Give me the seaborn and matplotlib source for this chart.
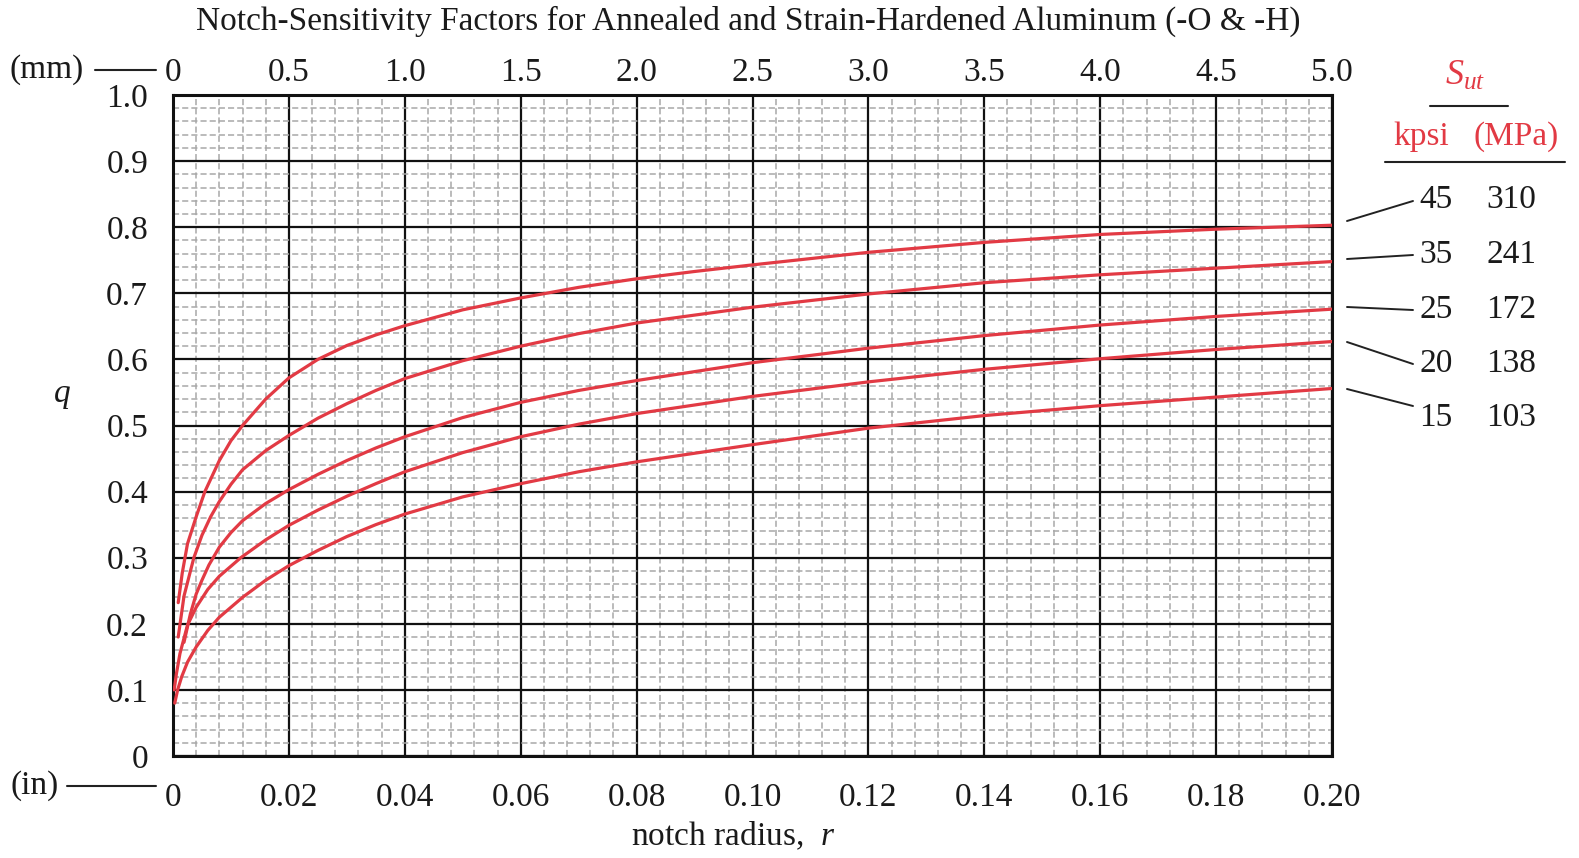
import numpy as np
import pandas as pd
import matplotlib
matplotlib.use("Agg")
import matplotlib.pyplot as plt
from matplotlib.lines import Line2D
import seaborn as sns

# Notch radius r (in) vs notch sensitivity q
r_45 = [0.0009, 0.0016, 0.0025, 0.004, 0.0055, 0.008, 0.01, 0.012, 0.016, 0.02, 0.025, 0.03, 0.035, 0.04,
        0.05, 0.06, 0.07, 0.08, 0.09, 0.10, 0.12, 0.14, 0.16, 0.18, 0.20]
q_45 = [0.232, 0.277, 0.321, 0.362, 0.40, 0.447, 0.477, 0.50, 0.54, 0.572, 0.600, 0.621, 0.637, 0.651,
        0.675, 0.693, 0.709, 0.722, 0.733, 0.743, 0.762, 0.777, 0.789, 0.797, 0.803]

r_35 = [0.0009, 0.0019, 0.0036, 0.005, 0.0065, 0.008, 0.01, 0.012, 0.016, 0.02, 0.025, 0.03, 0.035, 0.04,
        0.05, 0.06, 0.07, 0.08, 0.10, 0.12, 0.14, 0.16, 0.18, 0.20]
q_35 = [0.18, 0.242, 0.30, 0.334, 0.362, 0.385, 0.411, 0.433, 0.462, 0.485, 0.511, 0.533, 0.553, 0.571,
        0.598, 0.620, 0.639, 0.655, 0.679, 0.699, 0.716, 0.728, 0.738, 0.748]

r_25 = [0.0019, 0.003, 0.004, 0.005, 0.0062, 0.008, 0.01, 0.012, 0.016, 0.02, 0.025, 0.03, 0.035, 0.04,
        0.05, 0.06, 0.07, 0.08, 0.10, 0.12, 0.14, 0.16, 0.18, 0.20]
q_25 = [0.172, 0.215, 0.245, 0.266, 0.289, 0.316, 0.338, 0.356, 0.382, 0.403, 0.426, 0.447, 0.466, 0.483,
        0.512, 0.535, 0.553, 0.568, 0.595, 0.617, 0.636, 0.652, 0.665, 0.676]

r_20 = [0.0002, 0.0006, 0.0012, 0.0025, 0.004, 0.006, 0.008, 0.0117, 0.016, 0.02, 0.025, 0.03, 0.035,
        0.04, 0.05, 0.06, 0.07, 0.08, 0.10, 0.12, 0.14, 0.16, 0.18, 0.20]
q_20 = [0.10, 0.125, 0.155, 0.198, 0.225, 0.252, 0.272, 0.30, 0.327, 0.349, 0.372, 0.393, 0.412,
        0.430, 0.459, 0.483, 0.502, 0.518, 0.544, 0.566, 0.585, 0.601, 0.615, 0.627]

r_15 = [0.0003, 0.0008, 0.0015, 0.0025, 0.004, 0.006, 0.008, 0.012, 0.016, 0.02, 0.025, 0.03, 0.035,
        0.04, 0.05, 0.06, 0.07, 0.08, 0.10, 0.12, 0.14, 0.16, 0.18, 0.20]
q_15 = [0.08, 0.10, 0.12, 0.142, 0.165, 0.19, 0.21, 0.24, 0.266, 0.288, 0.311, 0.332, 0.35,
        0.366, 0.392, 0.412, 0.43, 0.445, 0.471, 0.496, 0.515, 0.53, 0.543, 0.556]

sut_kpsi = [45, 35, 25, 20, 15]
sut_mpa = [310, 241, 172, 138, 103]

x_ticks_in = [0, 0.02, 0.04, 0.06, 0.08, 0.10, 0.12, 0.14, 0.16, 0.18, 0.20]
x_labels_in = ["0", "0.02", "0.04", "0.06", "0.08", "0.10", "0.12", "0.14", "0.16", "0.18", "0.20"]
x_ticks_mm = [0, 0.5, 1.0, 1.5, 2.0, 2.5, 3.0, 3.5, 4.0, 4.5, 5.0]
x_labels_mm = ["0", "0.5", "1.0", "1.5", "2.0", "2.5", "3.0", "3.5", "4.0", "4.5", "5.0"]
y_ticks = [0, 0.1, 0.2, 0.3, 0.4, 0.5, 0.6, 0.7, 0.8, 0.9, 1.0]
y_labels = ["0", "0.1", "0.2", "0.3", "0.4", "0.5", "0.6", "0.7", "0.8", "0.9", "1.0"]

curves = {45: (r_45, q_45), 35: (r_35, q_35), 25: (r_25, q_25), 20: (r_20, q_20), 15: (r_15, q_15)}
df = pd.concat([pd.DataFrame({"r": r, "q": q, "Sut": k}) for k, (r, q) in curves.items()], ignore_index=True)

sns.set_style("white")
plt.rcParams.update({
    "font.family": ["Liberation Serif", "DejaVu Serif"],
    "mathtext.fontset": "custom",
    "mathtext.rm": "Liberation Serif",
    "mathtext.it": "Liberation Serif:italic",
})

W, H = 1579, 858
RED = "#e23a44"
TXT = "#1a1a1a"
FS = 24


def px(x, y):
    return x / W, 1 - y / H


fig = plt.figure(figsize=(W / 100, H / 100), dpi=100)
ax = fig.add_axes([173 / W, 1 - 756 / H, (1332 - 173) / W, (756 - 95) / H])

sns.lineplot(data=df, x="r", y="q", hue="Sut", palette=[RED] * 5, estimator=None,
             sort=True, legend=False, lw=2.3, ax=ax, zorder=5)
for ln in ax.lines:
    ln.set_solid_joinstyle("round")

ax.set_xlim(0, 0.20)
ax.set_ylim(0, 1.0)

# graph paper grid
ax.set_xticks(np.arange(0, 0.2001, 0.004), minor=True)
ax.set_yticks(np.arange(0, 1.0001, 0.02), minor=True)
ax.grid(which="minor", color="#a8a8a8", lw=1.1, ls=(0, (4, 2)), zorder=1)
ax.grid(which="major", color="#111111", lw=1.6, zorder=2)
ax.set_axisbelow(True)

ax.set_xticks(x_ticks_in)
ax.set_xticklabels(x_labels_in)
ax.set_yticks(y_ticks)
ax.set_yticklabels(y_labels)
ax.tick_params(which="both", length=0)
ax.tick_params(axis="x", pad=19, labelsize=FS, labelcolor=TXT)
ax.tick_params(axis="y", pad=18, labelsize=FS, labelcolor=TXT)
for s in ax.spines.values():
    s.set_linewidth(2.2)
    s.set_color("#111111")

top = ax.secondary_xaxis("top", functions=(lambda r: r * 25, lambda m: m / 25))
top.set_xticks(x_ticks_mm)
top.set_xticklabels(x_labels_mm)
top.tick_params(length=0, pad=5, labelsize=FS, labelcolor=TXT)
top.spines["top"].set_visible(False)

ax.set_xlabel("")
ax.set_ylabel("")

# titles and axis labels
fig.text(*px(748, 21), "Notch-Sensitivity Factors for Annealed and Strain-Hardened Aluminum (-O & -H)",
         ha="center", va="center", fontsize=FS, color=TXT)
fig.text(*px(733, 836), "notch radius,  $r$", ha="center", va="center", fontsize=FS, color=TXT)
fig.text(*px(62, 396), "$q$", ha="center", va="center", fontsize=FS, color=TXT)

# unit markers
fig.text(*px(47, 70), "(mm)", ha="center", va="center", fontsize=FS, color=TXT)
fig.add_artist(Line2D([95 / W, 156 / W], [1 - 70 / H] * 2, color="#222222", lw=1.5))
fig.text(*px(35, 786), "(in)", ha="center", va="center", fontsize=FS, color=TXT)
fig.add_artist(Line2D([67 / W, 156 / W], [1 - 786 / H] * 2, color="#222222", lw=1.5))

# S_ut key on the right
fig.text(*px(1465, 76), "$S_{ut}$", ha="center", va="center", fontsize=FS + 2, color=RED)
fig.add_artist(Line2D([1430 / W, 1508 / W], [1 - 106 / H] * 2, color="#222222", lw=1.5))
fig.text(*px(1421, 137), "kpsi", ha="center", va="center", fontsize=FS, color=RED)
fig.text(*px(1516, 137), "(MPa)", ha="center", va="center", fontsize=FS, color=RED)
fig.add_artist(Line2D([1385 / W, 1565 / W], [1 - 162 / H] * 2, color="#222222", lw=1.5))

label_y = [200, 255, 310, 364, 418]
leader_start = [221, 259, 307, 342, 389]
leader_end = [201, 255, 310, 364, 406]
for k, m, ly, y0, y1 in zip(sut_kpsi, sut_mpa, label_y, leader_start, leader_end):
    fig.text(*px(1436, ly), str(k), ha="center", va="center", fontsize=FS, color=TXT)
    fig.text(*px(1511, ly), str(m), ha="center", va="center", fontsize=FS, color=TXT)
    fig.add_artist(Line2D([1347 / W, 1413 / W], [1 - y0 / H, 1 - y1 / H], color="#222222", lw=1.4))

fig.savefig("out.png", dpi=100)
